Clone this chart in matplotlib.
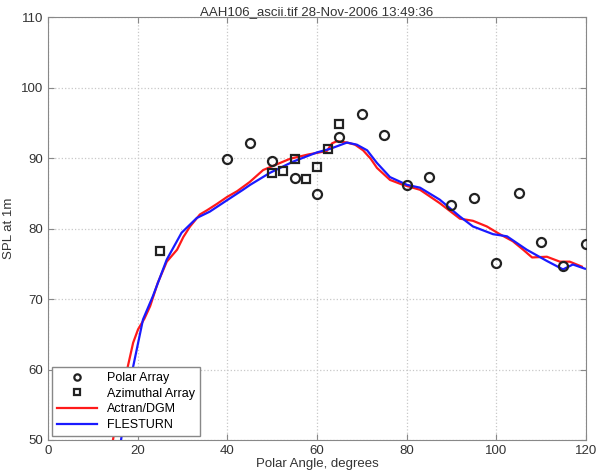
import numpy as np
import matplotlib.pyplot as plt

# measured data
polar_x = [40, 45, 50, 55, 60, 65, 70, 75, 80, 85, 90, 95, 100, 105, 110, 115, 120]
polar_y = [89.9, 92.2, 89.6, 87.2, 84.9, 93.0, 96.3, 93.3, 86.2, 87.3, 83.3, 84.4, 75.1, 85.0, 78.1, 74.7, 77.8]

azim_x = [25, 50, 52.5, 55, 57.5, 60, 62.5, 65]
azim_y = [76.8, 87.9, 88.1, 89.9, 87.0, 88.7, 91.3, 94.8]

# predictions
actran_x = [14.5, 16.0, 17.8, 19.0, 20.1, 21.5, 22.8, 24.5, 26.5, 28.8, 30.2, 31.7, 33.9, 35.5, 37.7,
            40.0, 42.2, 45.0, 48.0, 51.0, 54.0, 58.0, 62.2, 63.4, 64.5, 66.7, 68.5, 70.3, 72.0,
            73.4, 76.3, 79.2, 83.0, 87.4, 91.9, 94.8, 97.9, 100.8, 103.7, 106.0, 108.0, 111.3,
            114.2, 116.4, 119.1]
actran_y = [50.0, 55.5, 60.4, 63.8, 65.7, 67.2, 69.0, 72.3, 75.3, 77.0, 78.8, 80.3, 82.0, 82.6, 83.5,
            84.5, 85.3, 86.6, 88.3, 89.1, 89.9, 90.5, 91.0, 92.1, 92.4, 92.2, 91.9, 91.1, 89.9,
            88.6, 86.9, 86.2, 85.5, 83.6, 81.4, 81.1, 80.3, 79.2, 78.2, 77.0, 75.9, 76.0,
            75.3, 75.3, 74.6]

flesturn_x = [16.3, 17.5, 19.0, 21.2, 23.4, 26.5, 29.8, 33.2, 36.1, 39.9, 43.5, 45.1, 49.5, 54.7,
              60.0, 62.9, 66.7, 68.9, 71.2, 73.4, 76.3, 80.1, 83.0, 87.4, 91.9, 94.8, 99.3,
              102.4, 106.8, 111.3, 114.9, 117.1, 119.8]
flesturn_y = [50.0, 55.0, 60.4, 67.1, 70.4, 75.6, 79.4, 81.5, 82.4, 84.0, 85.5, 86.2, 87.9, 89.5,
              90.8, 91.3, 92.2, 91.9, 91.1, 89.3, 87.3, 86.2, 85.8, 84.1, 81.7, 80.3, 79.2,
              78.9, 77.0, 75.4, 74.2, 74.9, 74.3]

plt.rcParams['font.family'] = ['Liberation Sans', 'DejaVu Sans']

fig = plt.figure(figsize=(5.96, 4.75), dpi=100)
ax = fig.add_axes([0.0805, 0.0737, 0.9025, 0.8903])

ax.plot(actran_x, actran_y, color='#ff1a1a', lw=1.6, label='Actran/DGM', zorder=3)
ax.plot(flesturn_x, flesturn_y, color='#1a1aff', lw=1.6, label='FLESTURN', zorder=3)
ax.plot(polar_x, polar_y, 'o', mfc='none', mec='#222222', mew=1.6, ms=6.5,
        label='Polar Array', zorder=4)
ax.plot(azim_x, azim_y, 's', mfc='none', mec='#222222', mew=1.6, ms=5.5,
        label='Azimuthal Array', zorder=4)

ax.set_xlim(0, 120)
ax.set_ylim(50, 110)
ax.set_xticks(np.arange(0, 121, 20))
ax.set_yticks(np.arange(50, 111, 10))
ax.grid(True, ls=':', color='#c8c8c8', lw=0.9)
ax.tick_params(direction='in', top=True, right=True, labelsize=9.5,
               color='#888888', labelcolor='#333333', length=4)
for s in ax.spines.values():
    s.set_color('#888888')

ax.set_xlabel('Polar Angle, degrees', fontsize=9.5, color='#333333', labelpad=1)
ax.set_ylabel('SPL at 1m', fontsize=9.5, color='#333333')
ax.yaxis.set_label_coords(-0.062, 0.5)
ax.set_title('AAH106_ascii.tif 28-Nov-2006 13:49:36', fontsize=9.5, color='#333333', y=0.985)

h, l = ax.get_legend_handles_labels()
order = [2, 3, 0, 1]
leg = ax.legend([h[i] for i in order], [l[i] for i in order], loc='lower left',
                fontsize=9, fancybox=False, edgecolor='#888888', framealpha=1,
                borderaxespad=0.3, handlelength=3.2, labelspacing=0.3, markerscale=0.7)
leg.get_frame().set_linewidth(1.0)

fig.savefig('out.png', dpi=100)
